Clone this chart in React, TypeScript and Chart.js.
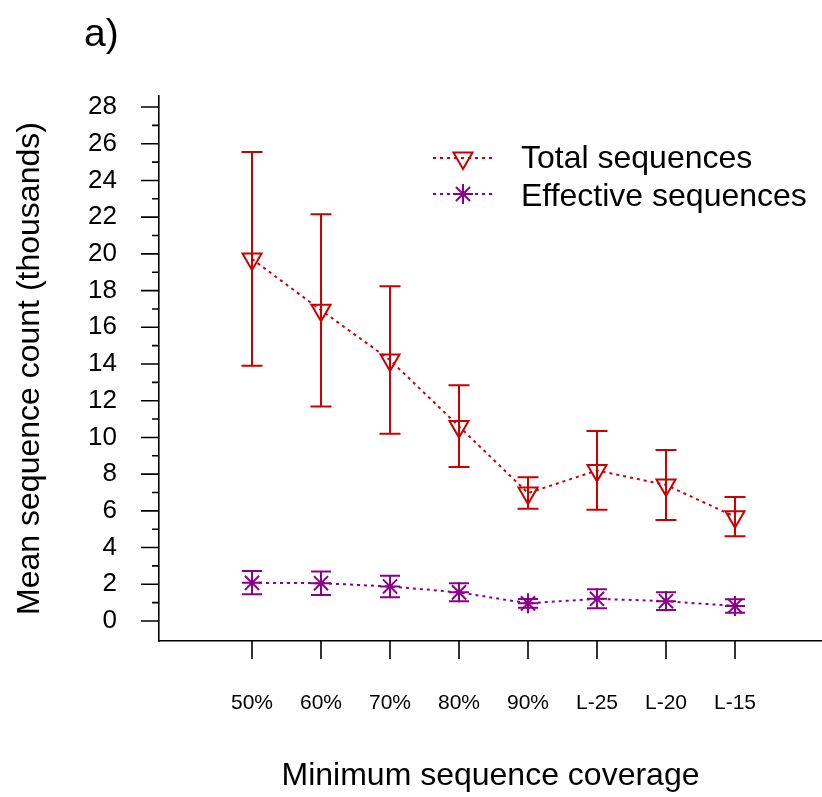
import React, { useEffect, useRef } from 'react';
import { Chart, registerables } from 'chart.js';
import { drawPoint } from 'chart.js/helpers';

Chart.register(...registerables);

const categories = ['50%', '60%', '70%', '80%', '90%', 'L-25', 'L-20', 'L-15'];
const totalMean = [19.72, 16.93, 14.22, 10.6, 6.97, 8.2, 7.41, 5.68];
const totalLow = [13.9, 11.69, 10.2, 8.39, 6.12, 6.06, 5.5, 4.61];
const totalHigh = [25.55, 22.16, 18.23, 12.84, 7.83, 10.35, 9.32, 6.75];
const effMean = [2.08, 2.06, 1.88, 1.56, 0.96, 1.21, 1.08, 0.82];
const effLow = [1.45, 1.42, 1.29, 1.07, 0.72, 0.69, 0.6, 0.45];
const effHigh = [2.72, 2.7, 2.47, 2.05, 1.2, 1.73, 1.56, 1.18];
const yTickValues = Array.from({ length: 29 }, (_, i) => i);
const seriesNames = ['Total sequences', 'Effective sequences'];

const RED = '#CD0000';
const PURPLE = '#8B008B';
const FONT = '"Liberation Sans", Arial, Helvetica, sans-serif';

export default function App() {
  const ref = useRef<HTMLCanvasElement>(null);

  useEffect(() => {
    const canvas = ref.current;
    if (!canvas) return;

    const errorBars = {
      id: 'errorBars',
      afterDatasetsDraw(chart: any) {
        const { ctx } = chart;
        const xs = chart.scales.x;
        const ys = chart.scales.y;
        const sets = [
          { lo: totalLow, hi: totalHigh, color: RED, cap: 10.5 },
          { lo: effLow, hi: effHigh, color: PURPLE, cap: 10 },
        ];
        ctx.save();
        ctx.lineWidth = 2;
        sets.forEach((s) => {
          ctx.strokeStyle = s.color;
          s.lo.forEach((lo, i) => {
            const x = xs.getPixelForValue(i + 1);
            const y1 = ys.getPixelForValue(lo);
            const y2 = ys.getPixelForValue(s.hi[i]);
            ctx.beginPath();
            ctx.moveTo(x, y1);
            ctx.lineTo(x, y2);
            ctx.moveTo(x - s.cap, y1);
            ctx.lineTo(x + s.cap, y1);
            ctx.moveTo(x - s.cap, y2);
            ctx.lineTo(x + s.cap, y2);
            ctx.stroke();
          });
        });
        ctx.restore();
      },
    };

    const extras = {
      id: 'extras',
      afterDraw(chart: any) {
        const { ctx, chartArea } = chart;
        const xs = chart.scales.x;
        const ys = chart.scales.y;
        ctx.save();
        // tick marks
        ctx.strokeStyle = '#000';
        ctx.lineWidth = 1.6;
        ctx.beginPath();
        yTickValues.forEach((v) => {
          const y = ys.getPixelForValue(v);
          const len = v % 2 === 0 ? 18 : 7;
          ctx.moveTo(chartArea.left - len, y);
          ctx.lineTo(chartArea.left, y);
        });
        categories.forEach((_, i) => {
          const x = xs.getPixelForValue(i + 1);
          ctx.moveTo(x, chartArea.bottom);
          ctx.lineTo(x, chartArea.bottom + 18);
        });
        ctx.stroke();

        // panel label
        ctx.fillStyle = '#000';
        ctx.font = `39px ${FONT}`;
        ctx.textAlign = 'left';
        ctx.textBaseline = 'alphabetic';
        ctx.fillText('a)', 84, 46);

        // legend
        const items = [
          { color: RED, style: 'triangle', rotation: 180, radius: 11, y: 158, text: seriesNames[0], base: 168 },
          { color: PURPLE, style: 'star', rotation: 0, radius: 10, y: 194, text: seriesNames[1], base: 206 },
        ];
        items.forEach((it) => {
          ctx.strokeStyle = it.color;
          ctx.lineWidth = 2;
          ctx.setLineDash([3, 4]);
          ctx.beginPath();
          ctx.moveTo(433, it.y);
          ctx.lineTo(496, it.y);
          ctx.stroke();
          ctx.setLineDash([]);
          ctx.fillStyle = 'rgba(0,0,0,0)';
          drawPoint(ctx, { pointStyle: it.style, rotation: it.rotation, radius: it.radius, borderWidth: 2 } as any, 463, it.y);
          ctx.fillStyle = '#000';
          ctx.font = `32px ${FONT}`;
          ctx.fillText(it.text, 521, it.base);
        });
        ctx.restore();
      },
    };

    const chart = new Chart(canvas, {
      type: 'line',
      data: {
        datasets: [
          {
            label: seriesNames[0],
            data: totalMean.map((v, i) => ({ x: i + 1, y: v })),
            borderColor: RED,
            borderWidth: 2,
            borderDash: [3, 4],
            pointStyle: 'triangle',
            pointRotation: 180,
            pointRadius: 11,
            pointBorderWidth: 2,
            pointBorderColor: RED,
            pointBackgroundColor: 'rgba(0,0,0,0)',
            fill: false,
            tension: 0,
          },
          {
            label: seriesNames[1],
            data: effMean.map((v, i) => ({ x: i + 1, y: v })),
            borderColor: PURPLE,
            borderWidth: 2,
            borderDash: [3, 4],
            pointStyle: 'star',
            pointRadius: 10,
            pointBorderWidth: 2,
            pointBorderColor: PURPLE,
            pointBackgroundColor: 'rgba(0,0,0,0)',
            fill: false,
            tension: 0,
          },
        ],
      },
      options: {
        responsive: false,
        animation: false,
        layout: { autoPadding: false, padding: { top: 96, right: 0, left: 0, bottom: 0 } },
        plugins: {
          legend: { display: false },
          tooltip: { enabled: false },
          title: { display: false },
        },
        scales: {
          x: {
            type: 'linear',
            min: -0.348,
            max: 9.261,
            afterBuildTicks: (scale: any) => {
              scale.ticks = categories.map((_, i) => ({ value: i + 1 }));
            },
            afterFit: (scale: any) => {
              scale.height = 156;
              scale.paddingLeft = 0;
              scale.paddingRight = 0;
            },
            ticks: {
              autoSkip: false,
              maxRotation: 0,
              padding: 50,
              color: '#000',
              font: { family: FONT, size: 21 },
              callback: (v: any) => categories[Number(v) - 1] ?? '',
            },
            grid: { display: true, drawOnChartArea: false, drawTicks: false },
            border: { display: true, color: '#000', width: 1.6 },
            title: {
              display: true,
              text: 'Minimum sequence coverage',
              color: '#000',
              font: { family: FONT, size: 32 },
              padding: { top: 0, bottom: 2 },
            },
          },
          y: {
            type: 'linear',
            min: -1.09,
            max: 28.6,
            afterBuildTicks: (scale: any) => {
              scale.ticks = yTickValues.map((v) => ({ value: v }));
            },
            afterFit: (scale: any) => {
              scale.width = 159;
              scale.paddingTop = 0;
              scale.paddingBottom = 0;
            },
            ticks: {
              autoSkip: false,
              padding: 42,
              color: '#000',
              font: { family: FONT, size: 26 },
              callback: (v: any) => (Number(v) % 2 === 0 ? String(v) : ''),
            },
            grid: { display: true, drawOnChartArea: false, drawTicks: false },
            border: { display: true, color: '#000', width: 1.6 },
            title: {
              display: true,
              text: 'Mean sequence count (thousands)',
              color: '#000',
              font: { family: FONT, size: 32 },
              padding: { top: 11, bottom: 0 },
            },
          },
        },
      },
      plugins: [errorBars, extras],
    });

    return () => chart.destroy();
  }, []);

  return (
    <div style={{ position: 'absolute', left: 0, top: 0, width: 822, height: 797, background: '#fff' }}>
      <canvas ref={ref} width={822} height={797} style={{ display: 'block', width: 822, height: 797 }} />
    </div>
  );
}
